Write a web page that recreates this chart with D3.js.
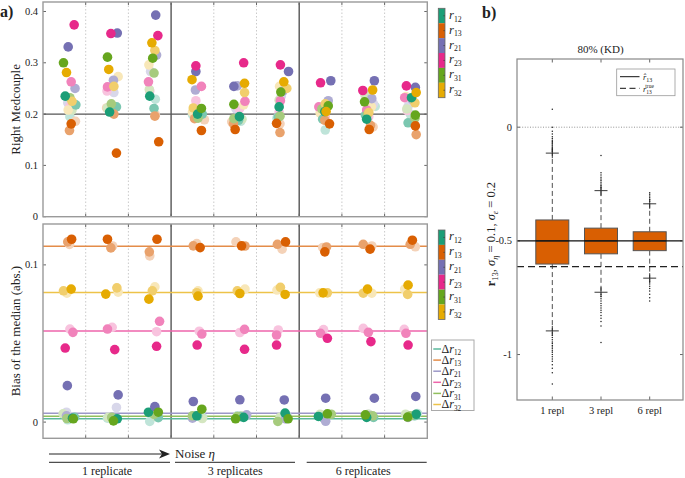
<!DOCTYPE html>
<html><head><meta charset="utf-8">
<script src="https://cdn.jsdelivr.net/npm/d3@7"></script>
<style>
body{margin:0;background:#fff}
svg{display:block}
text{font-family:"Liberation Serif","DejaVu Serif",serif;fill:#222}
</style>
</head><body>
<svg id="c" width="685" height="478"></svg>
<script>
// ---------------- DATA ----------------
const seriesNames = ["12","13","21","23","31","32"];
const seriesColors = ["#1b9e77","#d95f02","#7570b3","#e7298a","#66a61e","#e6ab02"];
const groupLabels = ["1 replicate","3 replicates","6 replicates"];
const topTicks = [0, 0.1, 0.2, 0.3, 0.4];
const botTicks = [0, 0.1];
const refLine = 0.2;
// each array: 9 groups x 3 shades (dark, medium, light), group-major
const topR12 = [0.235,0.218,0.195, 0.204,0.214,0.21, 0.235,0.211,0.229, 0.200,0.200,0.199, 0.195,0.188,0.186, 0.214,0.194,0.192, 0.205,0.19,0.169, 0.190,0.198,0.215, 0.232,0.183,0.2];
const topR13 = [0.181,0.168,0.186, 0.124,0.200,0.212, 0.146,0.196,0.199, 0.168,0.191,0.189, 0.170,0.181,0.185, 0.182,0.164,0.181, 0.181,0.188,0.192, 0.170,0.178,0.175, 0.177,0.160,0.18];
const topR21 = [0.331,0.250,0.222, 0.358,0.266,0.242, 0.393,0.315,0.283, 0.283,0.247,0.205, 0.254,0.255,0.21, 0.283,0.245,0.235, 0.265,0.226,0.212, 0.265,0.23,0.22, 0.252,0.228,0.215];
const topR23 = [0.374,0.263,0.215, 0.357,0.253,0.245, 0.353,0.263,0.245, 0.294,0.254,0.226, 0.300,0.225,0.21, 0.296,0.226,0.204, 0.261,0.214,0.195, 0.246,0.208,0.195, 0.255,0.232,0.207];
const topR31 = [0.300,0.232,0.208, 0.311,0.220,0.212, 0.309,0.280,0.248, 0.211,0.192,0.195, 0.219,0.191,0.19, 0.243,0.196,0.227, 0.216,0.21,0.2, 0.224,0.2,0.237, 0.198,0.192,0.21];
const topR32 = [0.281,0.225,0.208, 0.287,0.254,0.273, 0.339,0.324,0.296, 0.267,0.212,0.204, 0.260,0.242,0.218, 0.263,0.250,0.254, 0.205,0.220,0.202, 0.247,0.203,0.214, 0.242,0.222,0.234];
// horizontal position of each dot inside its group (fraction of group width)
const topJ12 = [0.52,0.77,0.63, 0.56,0.72,0.6, 0.50,0.60,0.63, 0.62,0.73,0.50, 0.60,0.58,0.63, 0.53,0.51,0.48, 0.60,0.55,0.61, 0.58,0.55,0.78, 0.63,0.55,0.60];
const topJ13 = [0.66,0.62,0.76, 0.72,0.66,0.49, 0.71,0.62,0.63, 0.71,0.55,0.78, 0.50,0.46,0.42, 0.47,0.55,0.55, 0.71,0.60,0.55, 0.64,0.67,0.73, 0.72,0.74,0.70];
const topJ21 = [0.59,0.75,0.58, 0.74,0.65,0.66, 0.64,0.66,0.52, 0.58,0.57,0.60, 0.47,0.55,0.52, 0.75,0.62,0.58, 0.74,0.68,0.49, 0.76,0.70,0.74, 0.72,0.65,0.55];
const topJ23 = [0.73,0.66,0.63, 0.59,0.51,0.50, 0.69,0.47,0.50, 0.58,0.71,0.58, 0.70,0.73,0.60, 0.56,0.56,0.53, 0.50,0.46,0.61, 0.49,0.58,0.63, 0.51,0.47,0.53];
const topJ31 = [0.48,0.63,0.68, 0.51,0.60,0.51, 0.57,0.60,0.49, 0.71,0.63,0.65, 0.47,0.47,0.66, 0.57,0.55,0.53, 0.68,0.53,0.58, 0.53,0.60,0.54, 0.72,0.71,0.52];
const topJ32 = [0.55,0.68,0.59, 0.54,0.66,0.76, 0.55,0.62,0.48, 0.49,0.52,0.50, 0.72,0.72,0.70, 0.64,0.71,0.54, 0.63,0.61,0.49, 0.72,0.63,0.69, 0.74,0.71,0.50];

const botR12 = [0.0025,0.003,0.0015, 0.0021,0.0025,0.0025, 0.0063,0.0028,0.0004, 0.004,0.004,0.003, 0.003,0.0035,0.004, 0.0057,0.004,0.003, 0.0036,0.003,0.004, 0.003,0.003,0.004, 0.005,0.004,0.0055];
const botR13 = [0.1163,0.1146,0.113, 0.1163,0.1108,0.112, 0.1163,0.1083,0.1057, 0.1110,0.1121,0.1135, 0.1121,0.112,0.1146, 0.1146,0.1131,0.110, 0.1083,0.1114,0.111, 0.110,0.1131,0.112, 0.1157,0.1131,0.1115];
const botR21 = [0.0232,0.004,0.0063, 0.0173,0.003,0.0093, 0.0099,0.008,0.0075, 0.0131,0.0025,0.004, 0.0142,0.0046,0.004, 0.0141,0.002,0.004, 0.0152,0.0005,0.003, 0.0152,0.004,0.005, 0.0163,0.003,0.004];
const botR23 = [0.0471,0.0571,0.0592, 0.0461,0.0592,0.0603, 0.0482,0.0641,0.0575, 0.049,0.056,0.0578, 0.0463,0.059,0.057, 0.049,0.0554,0.0586, 0.0533,0.0565,0.0588, 0.0512,0.0571,0.0596, 0.049,0.0565,0.059];
const botR31 = [0.0021,0.0023,0.0053, 0.0008,0.003,0.003, 0.0063,0.005,0.0035, 0.0082,0.004,0.0023, 0.0021,0.0035,0.004, 0.0021,0.0004,0.003, 0.0053,0.005,0.005, 0.0046,0.004,0.005, 0.0032,0.004,0.005];
const botR32 = [0.0846,0.0835,0.082, 0.0814,0.0854,0.0827, 0.0782,0.0835,0.086, 0.0801,0.0823,0.0835, 0.0818,0.0835,0.0846, 0.0812,0.0857,0.084, 0.0822,0.0822,0.0822, 0.0846,0.082,0.082, 0.0871,0.0812,0.0846];
const botJ12 = [0.69,0.74,0.58, 0.74,0.68,0.51, 0.47,0.70,0.50, 0.60,0.62,0.74, 0.70,0.62,0.55, 0.67,0.70,0.60, 0.45,0.55,0.52, 0.58,0.74,0.66, 0.74,0.70,0.77];
const botJ13 = [0.67,0.58,0.62, 0.51,0.59,0.63, 0.67,0.49,0.50, 0.68,0.52,0.60, 0.65,0.73,0.52, 0.68,0.49,0.60, 0.60,0.64,0.55, 0.66,0.50,0.70, 0.65,0.60,0.72];
const botJ21 = [0.57,0.55,0.55, 0.76,0.62,0.72, 0.62,0.60,0.65, 0.52,0.50,0.55, 0.61,0.77,0.65, 0.65,0.68,0.72, 0.62,0.62,0.55, 0.76,0.65,0.62, 0.73,0.55,0.60];
const botJ23 = [0.52,0.70,0.63, 0.68,0.51,0.62, 0.66,0.73,0.66, 0.61,0.72,0.66, 0.72,0.72,0.61, 0.47,0.47,0.51, 0.66,0.50,0.57, 0.68,0.62,0.50, 0.55,0.50,0.46];
const botJ31 = [0.71,0.56,0.47, 0.65,0.61,0.53, 0.70,0.60,0.65, 0.72,0.50,0.73, 0.51,0.55,0.65, 0.74,0.50,0.55, 0.66,0.75,0.49, 0.55,0.72,0.62, 0.54,0.60,0.49];
const botJ32 = [0.66,0.48,0.56, 0.47,0.73,0.76, 0.48,0.56,0.62, 0.63,0.60,0.63, 0.61,0.55,0.73, 0.67,0.56,0.48, 0.56,0.66,0.48, 0.60,0.50,0.70, 0.55,0.54,0.47];
// median bias lines (Δr)
const biasLines = [0.0022, 0.1119, 0.0057, 0.0579, 0.0037, 0.0825];

// panel b boxplot
const boxCats = ["1 repl","3 repl","6 repl"];
const boxTicks = [0, -0.5, -1];
const boxQ1 = [-0.602,-0.557,-0.543];
const boxMed = [-0.5,-0.5,-0.5];
const boxQ3 = [-0.408,-0.444,-0.460];
const whiskLo = [-0.896,-0.726,-0.664];
const whiskHi = [-0.114,-0.279,-0.337];
const outl1 = [0.079,0.0,-0.018,-0.03,-0.042,-0.05,-0.057,-0.063,-0.068,-0.073,-0.078,-0.083,-0.088,-0.093,-0.098,-0.104,-0.108,
  -0.905,-0.915,-0.925,-0.935,-0.945,-0.952,-0.96,-0.967,-0.975,-0.983,-0.99,-1.0,-1.01,-1.02,-1.03,-1.045,-1.06,-1.08,-1.13];
const outl2 = [-0.125,-0.2,-0.21,-0.22,-0.228,-0.235,-0.242,-0.25,-0.257,-0.265,-0.272,
  -0.735,-0.745,-0.755,-0.765,-0.775,-0.785,-0.795,-0.805,-0.815,-0.828,-0.84,-0.855,-0.875,-0.947];
const outl3 = [-0.288,-0.295,-0.303,-0.31,-0.318,-0.326,-0.672,-0.68,-0.69,-0.70,-0.71,-0.72,-0.735,-0.75,-0.765];
const rHat = -0.5;
const rTrue = -0.613;

// ---------------- DRAW ----------------
const svg = d3.select("#c");
const topVals = [topR12, topR13, topR21, topR23, topR31, topR32];
const topJit = [topJ12, topJ13, topJ21, topJ23, topJ31, topJ32];
const botVals = [botR12, botR13, botR21, botR23, botR31, botR32];
const botJit = [botJ12, botJ13, botJ21, botJ23, botJ31, botJ32];
const shadeT = [0, 0.42, 0.72];
const shadeColor = (ci, s) => d3.interpolateRgb(seriesColors[ci], "#ffffff")(shadeT[s]);

const X0 = 43, X1 = 427.3;
const x = d3.scaleLinear().domain([0, 9]).range([X0, X1]);
const yTop = d3.scaleLinear().domain([0, 0.4185]).range([216.7, 2]);
const yBot = d3.scaleLinear().domain([-0.0103, 0.126]).range([438.3, 224]);

function panel(y, ticks, fmt) {
  const g = svg.append("g");
  const [b, t] = y.range();
  [1,2,4,5,7,8].forEach(k => g.append("line").attr("x1", x(k)).attr("x2", x(k)).attr("y1", t).attr("y2", b)
    .attr("stroke", "#bdbdbd").attr("stroke-width", 0.8).attr("stroke-dasharray", "1.5,2"));
  [3,6].forEach(k => g.append("line").attr("x1", x(k)).attr("x2", x(k)).attr("y1", t).attr("y2", b)
    .attr("stroke", "#555").attr("stroke-width", 1.4));
  [1,2,3,4,5,6,7,8].forEach(k => {
    g.append("line").attr("x1", x(k)).attr("x2", x(k)).attr("y1", b).attr("y2", b - 3).attr("stroke", "#666");
    g.append("line").attr("x1", x(k)).attr("x2", x(k)).attr("y1", t).attr("y2", t + 3).attr("stroke", "#666");
  });
  ticks.forEach(v => {
    g.append("line").attr("x1", X0).attr("x2", X0 + 3).attr("y1", y(v)).attr("y2", y(v)).attr("stroke", "#666");
    g.append("line").attr("x1", X1).attr("x2", X1 - 3).attr("y1", y(v)).attr("y2", y(v)).attr("stroke", "#666");
    g.append("text").attr("x", X0 - 5).attr("y", y(v) + 3.5).attr("text-anchor", "end")
      .attr("font-size", 10.5).text(fmt(v));
  });
  return g;
}
function frame(y) {
  const [b, t] = y.range();
  svg.append("rect").attr("x", X0).attr("y", t).attr("width", X1 - X0).attr("height", b - t)
    .attr("fill", "none").attr("stroke", "#9a9a9a").attr("stroke-width", 1.4);
}
const fmt = v => v === 0 ? "0" : d3.format(".1f")(v);

// top panel
const gTop = panel(yTop, topTicks, fmt);
gTop.append("line").attr("x1", X0).attr("x2", X1).attr("y1", yTop(refLine)).attr("y2", yTop(refLine))
  .attr("stroke", "#555").attr("stroke-width", 1.4);
function dots(g, vals, jit, y) {
  [2,1,0].forEach(s => {
    vals.forEach((arr, ci) => {
      for (let gi = 0; gi < 9; gi++) {
        const v = arr[gi*3 + s], j = jit[ci][gi*3 + s];
        g.append("circle").attr("cx", x(gi + j)).attr("cy", y(v)).attr("r", 4.8)
          .attr("fill", shadeColor(ci, s));
      }
    });
  });
}
dots(gTop, topVals, topJit, yTop);
frame(yTop);

// bottom panel
const gBot = panel(yBot, botTicks, fmt);
biasLines.forEach((v, ci) => gBot.append("line").attr("x1", X0).attr("x2", X1).attr("y1", yBot(v)).attr("y2", yBot(v))
  .attr("stroke", d3.interpolateRgb(seriesColors[ci], "#fff")(0.28)).attr("stroke-width", 1.5));
dots(gBot, botVals, botJit, yBot);
frame(yBot);

// y labels
svg.append("text").attr("transform", `translate(20,${(yTop(0)+yTop(0.4185))/2}) rotate(-90)`)
  .attr("text-anchor", "middle").attr("font-size", 13).text("Right Medcouple");
svg.append("text").attr("transform", `translate(20,${(yBot(-0.0103)+yBot(0.126))/2}) rotate(-90)`)
  .attr("text-anchor", "middle").attr("font-size", 13).text("Bias of the median (abs.)");

// panel labels
svg.append("text").attr("x", 0).attr("y", 17).attr("font-size", 16).attr("font-weight", "bold").text("a)");
svg.append("text").attr("x", 482).attr("y", 18).attr("font-size", 16).attr("font-weight", "bold").text("b)");

function subLabel(g, xx, yy, pre, main, sub, size, subScale = 0.68) {
  const t = g.append("text").attr("x", xx).attr("y", yy).attr("font-size", size);
  if (pre) t.append("tspan").text(pre);
  t.append("tspan").attr("font-style", "italic").text(main);
  t.append("tspan").attr("font-size", size * subScale).attr("dy", size * 0.22).text(sub);
  return t;
}

// colorbar legends
function colorbar(top) {
  const h = 14.9;
  seriesColors.forEach((c, i) => {
    svg.append("rect").attr("x", 438.3).attr("y", top + i*h).attr("width", 6.7).attr("height", h).attr("fill", c);
    svg.append("line").attr("x1", 443.5).attr("x2", 445).attr("y1", top + i*h + h/2).attr("y2", top + i*h + h/2)
      .attr("stroke", "#333").attr("stroke-width", 0.8);
    subLabel(svg, 449, top + i*h + h/2 + 3, "", "r", seriesNames[i], 12.5, 0.62);
  });
  svg.append("rect").attr("x", 438.3).attr("y", top).attr("width", 6.7).attr("height", 6*h)
    .attr("fill", "none").attr("stroke", "#666").attr("stroke-width", 0.8);
}
colorbar(8.3);
colorbar(230);

// Δ legend
svg.append("rect").attr("x", 431.5).attr("y", 340).attr("width", 42.5).attr("height", 70.5)
  .attr("fill", "#fff").attr("stroke", "#aaa").attr("stroke-width", 1);
seriesColors.forEach((c, i) => {
  const yy = 349 + i * 11.1;
  svg.append("line").attr("x1", 433.3).attr("x2", 441).attr("y1", yy).attr("y2", yy)
    .attr("stroke", d3.interpolateRgb(c, "#fff")(0.28)).attr("stroke-width", 1.5);
  subLabel(svg, 441.5, yy + 3.5, "Δ", "r", seriesNames[i], 12, 0.6);
});

// bottom annotation
svg.append("line").attr("x1", 49).attr("x2", 163).attr("y1", 454).attr("y2", 454).attr("stroke", "#222").attr("stroke-width", 1);
svg.append("path").attr("d", "M170,454 L159,449.5 L162,454 L159,458.5 Z").attr("fill", "#222");
const noise = svg.append("text").attr("x", 175).attr("y", 458).attr("font-size", 13);
noise.append("tspan").text("Noise ");
noise.append("tspan").attr("font-style", "italic").text("η");
const brackets = [[49, 170], [175, 295], [306.7, 426.7]];
brackets.forEach((b, i) => {
  svg.append("line").attr("x1", b[0]).attr("x2", b[1]).attr("y1", 462.3).attr("y2", 462.3).attr("stroke", "#222").attr("stroke-width", 1);
  svg.append("text").attr("x", x(i*3 + 1.5)).attr("y", 474.5).attr("text-anchor", "middle").attr("font-size", 12).text(groupLabels[i]);
});

// ---------------- PANEL b ----------------
const BX0 = 517, BX1 = 683;
const yb = d3.scaleLinear().domain([-1.2, 0.3]).range([400, 59]);
const xb = d3.scalePoint().domain(boxCats).range([552.3, 649.7]);
const gb = svg.append("g");
svg.append("text").attr("x", (BX0 + BX1) / 2 + 0.5).attr("y", 53).attr("text-anchor", "middle").attr("font-size", 11).text("80% (KD)");
gb.append("line").attr("x1", BX0).attr("x2", BX1).attr("y1", yb(0)).attr("y2", yb(0))
  .attr("stroke", "#777").attr("stroke-width", 0.8).attr("stroke-dasharray", "1,1.6");
boxTicks.forEach(v => {
  gb.append("text").attr("x", BX0 - 5).attr("y", yb(v) + 3.5).attr("text-anchor", "end").attr("font-size", 10.5).text(v === 0 ? "0" : String(v));
  gb.append("line").attr("x1", BX1).attr("x2", BX1 - 3).attr("y1", yb(v)).attr("y2", yb(v)).attr("stroke", "#666");
  gb.append("line").attr("x1", BX0).attr("x2", BX0 + 3).attr("y1", yb(v)).attr("y2", yb(v)).attr("stroke", "#666");
});
boxCats.forEach((c, i) => {
  const cx = xb(c);
  gb.append("line").attr("x1", cx).attr("x2", cx).attr("y1", 59).attr("y2", 62.5).attr("stroke", "#666");
  gb.append("line").attr("x1", cx).attr("x2", cx).attr("y1", 400).attr("y2", 396.5).attr("stroke", "#666");
  gb.append("text").attr("x", cx).attr("y", 414).attr("text-anchor", "middle").attr("font-size", 10.5).text(c);
  gb.append("line").attr("x1", cx).attr("x2", cx).attr("y1", yb(boxQ3[i])).attr("y2", yb(whiskHi[i]))
    .attr("stroke", "#222").attr("stroke-width", 0.8).attr("stroke-dasharray", "5,3");
  gb.append("line").attr("x1", cx).attr("x2", cx).attr("y1", yb(boxQ1[i])).attr("y2", yb(whiskLo[i]))
    .attr("stroke", "#222").attr("stroke-width", 0.8).attr("stroke-dasharray", "5,3");
  [whiskHi[i], whiskLo[i]].forEach(w => {
    gb.append("line").attr("x1", cx - 6.5).attr("x2", cx + 6.5).attr("y1", yb(w)).attr("y2", yb(w)).attr("stroke", "#222").attr("stroke-width", 0.9);
    gb.append("line").attr("x1", cx).attr("x2", cx).attr("y1", yb(w) - 5).attr("y2", yb(w) + 5).attr("stroke", "#222").attr("stroke-width", 0.9);
  });
  [outl1, outl2, outl3][i].forEach(o => gb.append("circle").attr("cx", cx).attr("cy", yb(o)).attr("r", 0.75).attr("fill", "#222"));
  gb.append("rect").attr("x", cx - 16.5).attr("width", 33).attr("y", yb(boxQ3[i])).attr("height", yb(boxQ1[i]) - yb(boxQ3[i]))
    .attr("fill", "#d95f02").attr("stroke", "#555").attr("stroke-width", 1);
  gb.append("line").attr("x1", cx - 16.5).attr("x2", cx + 16.5).attr("y1", yb(boxMed[i])).attr("y2", yb(boxMed[i]))
    .attr("stroke", "#333").attr("stroke-width", 1.2);
});
gb.append("line").attr("x1", BX0).attr("x2", BX1).attr("y1", yb(rHat)).attr("y2", yb(rHat)).attr("stroke", "#111").attr("stroke-width", 1.2);
gb.append("line").attr("x1", BX0).attr("x2", BX1).attr("y1", yb(rTrue)).attr("y2", yb(rTrue)).attr("stroke", "#222")
  .attr("stroke-width", 1.3).attr("stroke-dasharray", "7,4");
gb.append("rect").attr("x", BX0).attr("y", 59).attr("width", BX1 - BX0).attr("height", 341)
  .attr("fill", "none").attr("stroke", "#888").attr("stroke-width", 1.2);
gb.append("rect").attr("x", 616.7).attr("y", 69).attr("width", 58.3).attr("height", 26.7).attr("fill", "#fff").attr("stroke", "#999").attr("stroke-width", 0.8);
gb.append("line").attr("x1", 620).attr("x2", 639.5).attr("y1", 76.7).attr("y2", 76.7).attr("stroke", "#111").attr("stroke-width", 1);
gb.append("line").attr("x1", 620).attr("x2", 639.5).attr("y1", 88.3).attr("y2", 88.3).attr("stroke", "#111").attr("stroke-width", 1).attr("stroke-dasharray", "6,3.5");
const l1 = gb.append("text").attr("x", 643).attr("y", 79.5).attr("font-size", 8.5);
l1.append("tspan").attr("font-style", "italic").text("r̂");
l1.append("tspan").attr("font-size", 6).attr("dy", 2).text("13");
const l2 = gb.append("text").attr("x", 643).attr("y", 91.5).attr("font-size", 8.5);
l2.append("tspan").attr("font-style", "italic").text("r");
l2.append("tspan").attr("font-size", 5.5).attr("dy", 2).text("13");
l2.append("tspan").attr("font-size", 5.5).attr("dx", -6.5).attr("dy", -5.5).text("true");
const yl = svg.append("text").attr("transform", `translate(495,${yb(-0.47)}) rotate(-90)`).attr("text-anchor", "middle").attr("font-size", 12.5);
yl.append("tspan").attr("font-weight", "bold").text("r");
yl.append("tspan").attr("font-size", 8.5).attr("dy", 3).text("13");
yl.append("tspan").attr("dy", -3).text(", ");
yl.append("tspan").attr("font-style", "italic").text("σ");
yl.append("tspan").attr("font-size", 8.5).attr("dy", 3).attr("font-style", "italic").text("η");
yl.append("tspan").attr("dy", -3).text(" = 0.1, ");
yl.append("tspan").attr("font-style", "italic").text("σ");
yl.append("tspan").attr("font-size", 8.5).attr("dy", 3).attr("font-style", "italic").text("ε");
yl.append("tspan").attr("dy", -3).text(" = 0.2");
</script>
</body></html>
